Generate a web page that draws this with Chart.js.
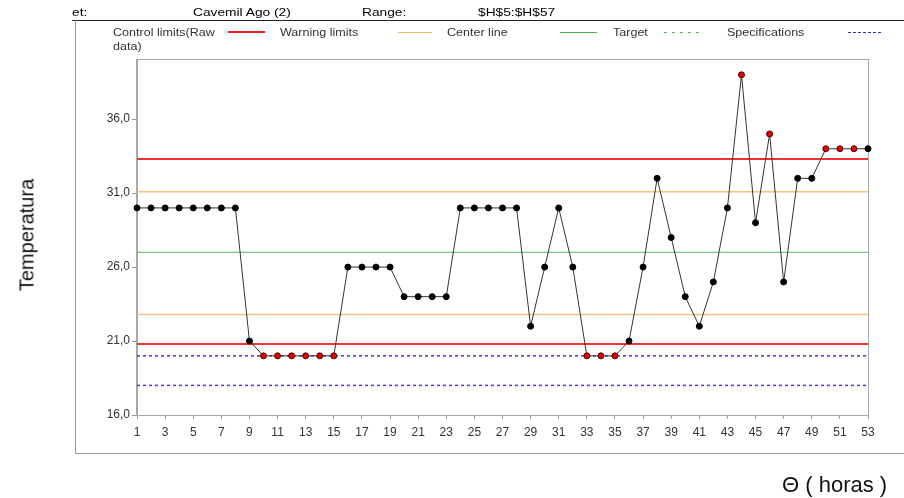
<!DOCTYPE html>
<html>
<head>
<meta charset="utf-8">
<script src="https://cdn.jsdelivr.net/npm/chart.js@4.4.1/dist/chart.umd.min.js"></script>
<style>
  body { margin: 0; background: #fff; }
  #wrap { position: relative; width: 904px; height: 498px; overflow: hidden; font-family: "Liberation Sans", Arial, sans-serif; }
  #c { position: absolute; left: 0; top: 0; }
  .t { position: absolute; font-size: 11px; line-height: 14px; white-space: nowrap; transform: scaleX(1.25); transform-origin: 0 0; color: #000; }
  .lg { color: #333; transform: scaleX(1.14); }
  .s { position: absolute; height: 0; }
  .dash { position: absolute; height: 1px; }
  .frame { position: absolute; background: #999; }
</style>
</head>
<body>
<div id="wrap">
  <canvas id="c" width="904" height="498"></canvas>

  <div class="frame" style="left:72px;top:20px;width:832px;height:1px;background:#222"></div>
  <div class="frame" style="left:75px;top:20px;width:1px;height:434px"></div>
  <div class="frame" style="left:75px;top:453px;width:829px;height:1px"></div>

  <div class="t" style="left:72px;top:5px">et:</div>
  <div class="t" style="left:193px;top:5px">Cavemil Ago (2)</div>
  <div class="t" style="left:362px;top:5px">Range:</div>
  <div class="t" style="left:478px;top:5px">$H$5:$H$57</div>

  <div class="t lg" style="left:113px;top:25px">Control limits(Raw<br>data)</div>
  <div class="s" style="left:228px;top:31px;width:37px;border-top:2px solid #f02020"></div>
  <div class="t lg" style="left:280px;top:25px">Warning limits</div>
  <div class="s" style="left:398px;top:32px;width:34px;border-top:1px solid #f0b860"></div>
  <div class="t lg" style="left:447px;top:25px">Center line</div>
  <div class="s" style="left:560px;top:32px;width:37px;border-top:1px solid #4caf50"></div>
  <div class="t lg" style="left:613px;top:25px">Target</div>
  <div class="dash" style="left:664px;top:32px;width:40px;background:repeating-linear-gradient(90deg,#4caf50 0 3px,transparent 3px 8px)"></div>
  <div class="t lg" style="left:727px;top:25px">Specifications</div>
  <div class="dash" style="left:848px;top:32px;width:34px;background:repeating-linear-gradient(90deg,#3030d0 0 3px,transparent 3px 5px)"></div>

  <div style="position:absolute;left:27px;top:235px;transform:translate(-50%,-50%) rotate(-90deg);font-size:20px;white-space:nowrap;color:#111">Temperatura</div>
  <div style="position:absolute;left:782px;top:472px;font-size:22px;white-space:nowrap;color:#111">Θ ( horas )</div>
</div>
<script>
const hours = [1, 2, 3, 4, 5, 6, 7, 8, 9, 10, 11, 12, 13, 14, 15, 16, 17, 18, 19, 20,
  21, 22, 23, 24, 25, 26, 27, 28, 29, 30, 31, 32, 33, 34, 35, 36, 37, 38, 39, 40,
  41, 42, 43, 44, 45, 46, 47, 48, 49, 50, 51, 52, 53];
const temps = [30, 30, 30, 30, 30, 30, 30, 30, 21, 20, 20, 20, 20, 20, 20, 26, 26, 26, 26, 24,
  24, 24, 24, 30, 30, 30, 30, 30, 22, 26, 30, 26, 20, 20, 20, 21, 26, 32, 28, 24,
  22, 25, 30, 39, 29, 35, 25, 32, 32, 34, 34, 34, 34];
// points shown in red (out of control)
const flagged = [10, 11, 12, 13, 14, 15, 33, 34, 35, 44, 46, 50, 51, 52];

const controlLimits = [33.3, 20.8];
const warningLimits = [31.1, 22.8];
const centerLine = [27.0];
const specifications = [20.0, 18.0];

const xTicks = [1, 3, 5, 7, 9, 11, 13, 15, 17, 19, 21, 23, 25, 27, 29, 31, 33, 35, 37, 39,
  41, 43, 45, 47, 49, 51, 53];
const yTicks = [16, 21, 26, 31, 36];

const first = hours[0];
const last = hours[hours.length - 1];

function hline(v, color, width, dash) {
  return {
    data: [{ x: first, y: v }, { x: last, y: v }],
    borderColor: color,
    borderWidth: width,
    borderDash: dash || [],
    pointRadius: 0,
    order: 2,
  };
}

const plotFrame = {
  id: "plotFrame",
  beforeDatasetsDraw(chart) {
    const { ctx, chartArea: a } = chart;
    ctx.save();
    ctx.strokeStyle = "#a8a8a8";
    ctx.lineWidth = 1;
    ctx.strokeRect(a.left - 0.5, a.top - 0.5, a.right - a.left + 1, a.bottom - a.top + 1);
    ctx.restore();
  },
};

const datasets = [
  {
    data: hours.map((h, i) => ({ x: h, y: temps[i] })),
    borderColor: "#333",
    borderWidth: 1,
    pointRadius: 3,
    pointBorderWidth: 1,
    pointBackgroundColor: (c) => (flagged.includes(hours[c.dataIndex]) ? "#e00000" : "#000"),
    pointBorderColor: (c) => (flagged.includes(hours[c.dataIndex]) ? "#500" : "#000"),
    clip: false,
    order: 1,
  },
];
controlLimits.forEach((v) => datasets.push(hline(v, "#f43030", 2)));
warningLimits.forEach((v) => datasets.push(hline(v, "#f2c47c", 1.5)));
centerLine.forEach((v) => datasets.push(hline(v, "#5cb85c", 1)));
specifications.forEach((v) => datasets.push(hline(v, "#3a3ad8", 1.5, [3, 3])));

new Chart(document.getElementById("c"), {
  type: "line",
  data: { datasets },
  plugins: [plotFrame],
  options: {
    responsive: false,
    animation: false,
    layout: { padding: { top: 60, right: 36, left: 0, bottom: 0 } },
    plugins: { legend: { display: false }, tooltip: { enabled: false } },
    scales: {
      x: {
        type: "linear",
        min: first,
        max: last,
        afterBuildTicks: (s) => { s.ticks = xTicks.map((v) => ({ value: v })); },
        afterFit: (s) => { s.height = 83; },
        grid: { drawOnChartArea: false, tickLength: 4, color: "#999" },
        border: { color: "#a8a8a8" },
        ticks: { color: "#333", font: { family: "Liberation Sans", size: 12 }, padding: 6, maxRotation: 0, autoSkip: false },
      },
      y: {
        min: 16,
        max: 40,
        afterBuildTicks: (s) => { s.ticks = yTicks.map((v) => ({ value: v })); },
        afterFit: (s) => { s.width = 137; },
        grid: { drawOnChartArea: false, tickLength: 5, color: "#999" },
        border: { color: "#a8a8a8" },
        ticks: {
          color: "#333",
          font: { family: "Liberation Sans", size: 12 },
          padding: 2,
          callback: (v) => v.toFixed(1).replace(".", ","),
        },
      },
    },
  },
});
</script>
</body>
</html>
